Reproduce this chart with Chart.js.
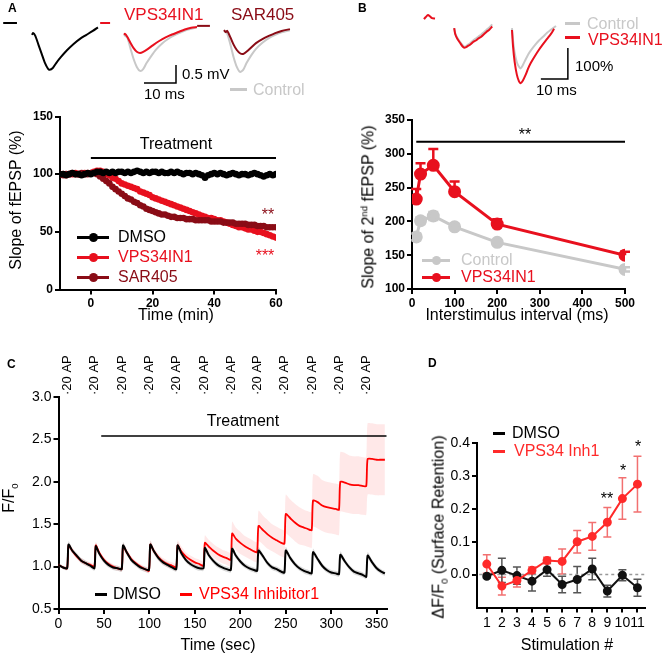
<!DOCTYPE html>
<html>
<head>
<meta charset="utf-8">
<script src="https://cdn.jsdelivr.net/npm/chart.js@4.4.1/dist/chart.umd.min.js"></script>
<style>
body { margin: 0; background: #fff; width: 667px; height: 657px; position: relative; overflow: hidden;
       font-family: "Liberation Sans", Arial, sans-serif; }
canvas { position: absolute; }
.t { position: absolute; white-space: nowrap; line-height: 1; }
.rot { position: absolute; white-space: nowrap; line-height: 1; transform: translate(-50%, -50%) rotate(-90deg); }
.ln { position: absolute; height: 3px; }
.dot { position: absolute; width: 9px; height: 9px; border-radius: 50%; }
sup, sub { font-size: 60%; }
</style>
</head>
<body>
<canvas id="insetA" width="330" height="100" style="left:0;top:0"></canvas>
<canvas id="insetB" width="337" height="100" style="left:330px;top:0"></canvas>
<canvas id="chartA" width="300" height="220" style="left:0;top:100px"></canvas>
<canvas id="chartB" width="310" height="220" style="left:340px;top:100px"></canvas>
<canvas id="chartC" width="395" height="337" style="left:0;top:320px"></canvas>
<canvas id="chartD" width="267" height="337" style="left:400px;top:320px"></canvas>

<script>
// colours
const RED_A = "#e8101e";
const DARK_RED = "#8a0c16";
const GREY = "#c8c8c8";
const RED_C = "#ff0000";
const RED_D = "#ff2a2a";

// ---- inset traces, panel A (ms / mV) ----
const aSweepStart = [10, 38.75, 70]; // black, VPS34IN1, SAR405 sweeps
const aBlackT = [0, 0.3, 1, 2, 3, 4, 5, 5.5, 6.5, 7.5, 9, 11, 13, 15, 17, 19, 20.6];
const aBlackV = [-0.33, -0.28, -0.35, -0.6, -0.85, -1.1, -1.27, -1.3, -1.25, -1.12, -0.95, -0.75, -0.58, -0.44, -0.33, -0.22, -0.12];
const aVpsT = [0, 0.3, 1, 2, 3, 4, 5, 6, 7.5, 9, 11, 13, 15, 17, 19, 21, 22.8];
const aVpsV = [-0.33, -0.3, -0.38, -0.55, -0.7, -0.8, -0.83, -0.8, -0.72, -0.62, -0.5, -0.4, -0.32, -0.25, -0.18, -0.13, -0.11];
const aVpsCtrlT = [0, 1, 2, 3, 4, 5, 6, 7, 8.5, 10, 12, 14, 16, 18, 20, 22.8];
const aVpsCtrlV = [-0.33, -0.4, -0.7, -1.0, -1.22, -1.33, -1.28, -1.12, -0.92, -0.74, -0.56, -0.43, -0.33, -0.25, -0.18, -0.12];
const aSarT = [0, 0.5, 1, 2, 3, 4, 5, 6, 7, 8.5, 10, 12, 14, 16, 18, 20.6];
const aSarV = [-0.2, -0.25, -0.22, -0.4, -0.6, -0.75, -0.84, -0.86, -0.8, -0.68, -0.56, -0.45, -0.36, -0.28, -0.22, -0.17];
const aSarCtrlT = [0, 1, 2, 3, 4, 5, 6, 7, 8.5, 10, 12, 14, 16, 18, 20.6];
const aSarCtrlV = [-0.2, -0.3, -0.6, -0.95, -1.22, -1.36, -1.3, -1.12, -0.9, -0.72, -0.55, -0.42, -0.33, -0.26, -0.2];
const aStimStart = [1, 31.3, 61.6];
const aStimEnd = [5.3, 34.4, 65.6];
const aStimLevel = [0, 0, -0.08];
const aScaleX = [45, 55, 55];      // 10 ms
const aScaleY = [-1.667, -1.667, -1.167]; // 0.5 mV

// ---- inset traces, panel B (ms / %) ----
const bSweepStart = [34.8, 46.0, 67.4];
const bSquigT = [0, 0.7, 1.5, 2.2, 3, 4.1];
const bSquigV = [19, 26, 32, 28, 22, 21];
const bTr1T = [0, 0.4, 1.2, 2.2, 3.2, 4, 5, 6, 7, 8, 9, 10, 11, 12, 13, 14.1];
const bTr1V = [-10, -30, -45, -58, -70, -73, -68, -63, -55, -50, -43, -38, -30, -22, -15, -5];
const bTr1CtrlV = [-10, -28, -42, -55, -66, -70, -64, -58, -50, -44, -37, -31, -23, -15, -8, 2];
const bTr2T = [0, 0.4, 1, 1.8, 2.6, 3.2, 4, 5, 6, 7, 8.5, 10, 11.5, 13, 14.5, 15.6];
const bTr2V = [-16, -70, -120, -160, -182, -188, -180, -162, -140, -122, -100, -80, -62, -45, -28, -12];
const bTr2CtrlT = [0, 0.4, 1, 1.8, 2.6, 3.2, 4, 5, 6, 7, 8.5, 10, 11.5, 13, 14.5, 16.3];
const bTr2CtrlV = [-10, -50, -90, -120, -135, -140, -130, -112, -95, -82, -65, -50, -38, -25, -15, -3];
const bScaleX = [78.1, 88.1, 88.1];   // 10 ms
const bScaleY = [-174, -174, -74];    // 100 %

// ---- panel A: fEPSP slope vs time ----
const timeA = [-10, -9, -8, -7, -6, -5, -4, -3, -2, -1,
  0, 1, 2, 3, 4, 5, 6, 7, 8, 9, 10, 11, 12, 13, 14, 15, 16, 17, 18, 19,
  20, 21, 22, 23, 24, 25, 26, 27, 28, 29, 30, 31, 32, 33, 34, 35, 36, 37, 38, 39,
  40, 41, 42, 43, 44, 45, 46, 47, 48, 49, 50, 51, 52, 53, 54, 55, 56, 57, 58, 59, 60];
const dmsoA = [100, 100, 99, 100, 101, 100, 100, 99, 100, 101,
  100, 101, 102, 102, 101, 102, 101, 102, 101, 102,
  102, 101, 102, 101, 102, 103, 102, 101, 102, 101,
  102, 102, 101, 102, 101, 101, 102, 101, 102, 101,
  100, 101, 101, 100, 101, 100, 99, 97, 99, 100,
  101, 100, 101, 100, 99, 100, 101, 100, 99, 100,
  100, 99, 100, 101, 100, 99, 98, 99, 100, 99, 100];
const vpsA = [100, 100, 99, 100, 100, 101, 100, 100, 101, 101,
  101, 102, 103, 103, 102, 100, 99, 97, 96, 94,
  92, 91, 90, 89, 88, 87, 85, 84, 83, 82,
  80, 79, 78, 77, 76, 75, 74, 73, 72, 71,
  70, 69, 68, 67, 66, 65, 64, 63, 62, 62,
  61, 60, 60, 59, 58, 57, 56, 55, 54, 54,
  53, 52, 52, 51, 50, 50, 49, 48, 47, 46, 45];
const sarA = [100, 99, 100, 100, 101, 100, 100, 101, 100, 100,
  101, 101, 100, 98, 96, 94, 92, 89, 87, 85,
  83, 81, 79, 78, 76, 75, 73, 72, 70, 69,
  68, 67, 66, 65, 65, 64, 63, 63, 62, 62,
  62, 61, 61, 61, 60, 60, 60, 60, 60, 59,
  59, 59, 59, 58, 58, 58, 58, 57, 57, 57,
  57, 56, 56, 56, 55, 55, 55, 54, 54, 54, 54];
const xTicksA = [0, 20, 40, 60];
const yTicksA = [0, 50, 100, 150];
const treatA = [0, 60];
const treatLevelA = 114;

// ---- panel B: paired-pulse ----
const isiB = [10, 20, 50, 100, 200, 500];
const ctrlB = [177, 201, 208, 192, 169, 129];
const ctrlErrB = [5, 5, 6, 4, 3, 3];
const vpsB = [233, 270, 283, 244, 196, 150];
const vpsErrB = [15, 16, 24, 15, 7, 5];
const xTicksB = [0, 100, 200, 300, 400, 500];
const yTicksB = [100, 150, 200, 250, 300, 350];
const sigB = [10, 502];
const sigLevelB = 318;

// ---- panel C: F/F0 traces ----
const stimTimes = [10, 40, 70, 100, 130, 160, 190, 219, 249, 279, 309, 339];
const timeC = [0, 5, 9.5,
  11, 15, 20, 25, 30, 35, 39.5,
  41, 45, 50, 55, 60, 65, 69.5,
  71, 75, 80, 85, 90, 95, 99.5,
  101, 105, 110, 115, 120, 125, 129.5,
  131, 135, 140, 145, 150, 155, 159.5,
  161, 165, 170, 175, 180, 185, 189.5,
  191, 195, 200, 205, 210, 215, 218.5,
  220, 225, 230, 235, 240, 245, 248.5,
  250, 255, 260, 265, 270, 275, 278.5,
  280, 285, 290, 295, 300, 305, 308.5,
  310, 315, 320, 325, 330, 335, 338.5,
  340, 345, 350, 355, 359];
const dmsoC = [1.02, 0.99, 0.98,
  1.26, 1.19, 1.13, 1.07, 1.04, 1.01, 0.98,
  1.24, 1.15, 1.07, 1.02, 0.99, 0.98, 0.97,
  1.25, 1.17, 1.08, 1.03, 0.99, 0.97, 0.96,
  1.26, 1.18, 1.10, 1.05, 1.02, 0.99, 0.97,
  1.25, 1.16, 1.08, 1.03, 1.00, 0.98, 0.98,
  1.22, 1.14, 1.07, 1.02, 0.99, 0.97, 0.96,
  1.21, 1.13, 1.06, 1.01, 0.98, 0.96, 0.95,
  1.19, 1.12, 1.04, 0.99, 0.97, 0.94, 0.93,
  1.19, 1.10, 1.03, 0.98, 0.95, 0.93, 0.92,
  1.17, 1.09, 1.01, 0.96, 0.93, 0.92, 0.91,
  1.14, 1.06, 0.99, 0.94, 0.92, 0.90, 0.88,
  1.13, 1.05, 0.98, 0.94, 0.92];
const semDmsoC = [0.02, 0.02, 0.02,
  0.04, 0.03, 0.03, 0.03, 0.03, 0.03, 0.03,
  0.04, 0.03, 0.03, 0.03, 0.03, 0.03, 0.03,
  0.04, 0.03, 0.03, 0.03, 0.03, 0.03, 0.03,
  0.04, 0.03, 0.03, 0.03, 0.03, 0.03, 0.03,
  0.04, 0.03, 0.03, 0.03, 0.03, 0.03, 0.03,
  0.04, 0.03, 0.03, 0.03, 0.03, 0.03, 0.03,
  0.04, 0.03, 0.03, 0.03, 0.03, 0.03, 0.03,
  0.04, 0.03, 0.03, 0.03, 0.03, 0.03, 0.03,
  0.04, 0.03, 0.03, 0.03, 0.03, 0.03, 0.03,
  0.04, 0.03, 0.03, 0.03, 0.03, 0.03, 0.03,
  0.04, 0.03, 0.03, 0.03, 0.03, 0.03, 0.03,
  0.04, 0.03, 0.03, 0.03, 0.03];
const vpsC = [1.02, 0.99, 0.98,
  1.25, 1.19, 1.12, 1.07, 1.04, 1.02, 1.00,
  1.25, 1.16, 1.08, 1.03, 1.00, 0.98, 0.97,
  1.24, 1.17, 1.09, 1.04, 1.00, 0.97, 0.95,
  1.26, 1.18, 1.11, 1.06, 1.03, 1.01, 0.99,
  1.25, 1.18, 1.12, 1.08, 1.05, 1.03, 1.01,
  1.28, 1.24, 1.19, 1.15, 1.12, 1.10, 1.08,
  1.39, 1.33, 1.28, 1.24, 1.21, 1.18, 1.17,
  1.48, 1.43, 1.38, 1.34, 1.31, 1.28, 1.27,
  1.62, 1.57, 1.52, 1.48, 1.46, 1.44, 1.43,
  1.78, 1.76, 1.72, 1.70, 1.69, 1.68, 1.67,
  2.00, 1.99, 1.97, 1.96, 1.96, 1.95, 1.95,
  2.27, 2.27, 2.26, 2.26, 2.26];
const semVpsC = [0.02, 0.02, 0.02,
  0.03, 0.03, 0.03, 0.03, 0.03, 0.03, 0.03,
  0.04, 0.03, 0.03, 0.03, 0.03, 0.03, 0.03,
  0.04, 0.04, 0.03, 0.03, 0.03, 0.03, 0.03,
  0.05, 0.04, 0.04, 0.04, 0.04, 0.04, 0.04,
  0.06, 0.06, 0.05, 0.05, 0.05, 0.05, 0.05,
  0.09, 0.08, 0.08, 0.08, 0.08, 0.08, 0.08,
  0.14, 0.13, 0.13, 0.12, 0.12, 0.12, 0.12,
  0.18, 0.17, 0.17, 0.16, 0.16, 0.16, 0.16,
  0.23, 0.22, 0.22, 0.22, 0.21, 0.21, 0.21,
  0.31, 0.31, 0.30, 0.30, 0.30, 0.30, 0.30,
  0.35, 0.35, 0.34, 0.34, 0.34, 0.34, 0.34,
  0.42, 0.42, 0.42, 0.42, 0.42];
const xTicksC = [0, 50, 100, 150, 200, 250, 300, 350];
const yTicksC = [0.5, 1.0, 1.5, 2.0, 2.5, 3.0];
const treatC = [47, 361];
const treatLevelC = 2.54;

// ---- panel D: surface retention ----
const stimD = [1, 2, 3, 4, 5, 6, 7, 8, 9, 10, 11];
const dmsoD = [-0.005, 0.013, -0.003, -0.02, 0.015, -0.03, -0.015, 0.017, -0.05, -0.002, -0.04];
const errDmsoD = [0.005, 0.037, 0.026, 0.03, 0.02, 0.025, 0.04, 0.033, 0.018, 0.017, 0.026];
const vpsD = [0.032, -0.035, -0.018, 0.013, 0.043, 0.04, 0.10, 0.116, 0.159, 0.231, 0.275];
const errVpsD = [0.028, 0.027, 0.02, 0.01, 0.01, 0.038, 0.034, 0.042, 0.045, 0.063, 0.085];
const yTicksD = [0, 0.1, 0.2, 0.3, 0.4];
const zeroLineD = [0.5, 11.5];

Chart.defaults.font.family = '"Liberation Sans", Arial, sans-serif';
Chart.defaults.color = "#000";

const xy = (xs, ys, shift) => xs.map((x, i) => ({x: x + (shift || 0), y: ys[i]}));
const flat = (xs, level) => xs.map(x => ({x, y: level}));

// error bars drawn through the chart's own y scale
const errorBars = {
  id: "errorBars",
  beforeDatasetsDraw(chart) {
    const ctx = chart.ctx;
    chart.data.datasets.forEach((ds, i) => {
      if (!ds.err) return;
      const meta = chart.getDatasetMeta(i);
      const ys = chart.scales[meta.yAxisID];
      ctx.save();
      ctx.strokeStyle = ds.errColor;
      ctx.lineWidth = ds.errWidth || 1.5;
      meta.data.forEach((pt, j) => {
        const v = ds.data[j].y, e = ds.err[j], cap = ds.errCap || 4;
        const top = ys.getPixelForValue(v + e);
        const bot = ds.errUpOnly ? pt.y : ys.getPixelForValue(v - e);
        ctx.beginPath();
        ctx.moveTo(pt.x, top); ctx.lineTo(pt.x, bot);
        ctx.moveTo(pt.x - cap, top); ctx.lineTo(pt.x + cap, top);
        if (!ds.errUpOnly) { ctx.moveTo(pt.x - cap, bot); ctx.lineTo(pt.x + cap, bot); }
        ctx.stroke();
      });
      ctx.restore();
    });
  }
};

// "20 AP" markers above panel C, one per stimulation
const apLabels = {
  id: "apLabels",
  afterDraw(chart) {
    const ctx = chart.ctx, xs = chart.scales.x;
    ctx.save();
    ctx.font = '13px "Liberation Sans", Arial, sans-serif';
    ctx.fillStyle = "#000";
    ctx.textAlign = "left";
    ctx.textBaseline = "middle";
    stimTimes.forEach(t => {
      ctx.save();
      ctx.translate(xs.getPixelForValue(t), chart.chartArea.top - 2);
      ctx.rotate(-Math.PI / 2);
      ctx.fillText("\u00b720 AP", 0, 0);
      ctx.restore();
    });
    ctx.restore();
  }
};

function axis(min, max, ticks, size, font, fmt) {
  return {
    type: "linear", min, max,
    afterBuildTicks: s => { s.ticks = ticks.map(v => ({value: v})); },
    afterFit: s => { if (s.isHorizontal()) s.height = size; else s.width = size; },
    border: {display: true, color: "#000", width: 2},
    grid: {display: true, drawOnChartArea: false, drawTicks: true, tickLength: 5, color: "#000", lineWidth: 2},
    ticks: {color: "#000", padding: 2, font, autoSkip: false, maxRotation: 0, callback: fmt || (v => v)}
  };
}

function baseOpts(padding, scales) {
  return {
    responsive: false, animation: false, events: [],
    layout: {padding},
    plugins: {legend: {display: false}, tooltip: {enabled: false}},
    scales
  };
}

function trace(data, color, width) {
  return {data, borderColor: color, borderWidth: width || 2, pointRadius: 0, tension: 0.25, fill: false, clip: false};
}

function insetOpts(xmax, ymin, ymax) {
  return baseOpts(0, {
    x: {type: "linear", display: false, min: 0, max: xmax},
    y: {type: "linear", display: false, min: ymin, max: ymax}
  });
}

// inset A
new Chart(document.getElementById("insetA"), {
  type: "line",
  data: {datasets: [
    trace(xy(aBlackT, aBlackV, aSweepStart[0]), "#000"),
    trace(xy(aVpsT, aVpsV, aSweepStart[1]), RED_A),
    trace(xy(aVpsCtrlT, aVpsCtrlV, aSweepStart[1]), GREY),
    trace(xy(aSarT, aSarV, aSweepStart[2]), DARK_RED),
    trace(xy(aSarCtrlT, aSarCtrlV, aSweepStart[2]), GREY),
    trace(flat([aStimStart[0], aStimEnd[0]], aStimLevel[0]), "#000"),
    trace(flat([aStimStart[1], aStimEnd[1]], aStimLevel[1]), RED_A),
    trace(flat([aStimStart[2], aStimEnd[2]], aStimLevel[2]), DARK_RED),
    Object.assign(trace(xy(aScaleX, aScaleY), "#000", 1.5), {tension: 0})
  ]},
  options: insetOpts(330 / 3.2, -77 / 36, 23 / 36)
});

// inset B
new Chart(document.getElementById("insetB"), {
  type: "line",
  data: {datasets: [
    trace(xy(bSquigT, bSquigV, bSweepStart[0]), RED_A),
    trace(xy(bTr1T, bTr1V, bSweepStart[1]), RED_A),
    trace(xy(bTr1T, bTr1CtrlV, bSweepStart[1]), GREY),
    trace(xy(bTr2T, bTr2V, bSweepStart[2]), RED_A),
    trace(xy(bTr2CtrlT, bTr2CtrlV, bSweepStart[2]), GREY),
    Object.assign(trace(xy(bScaleX, bScaleY), "#000", 1.5), {tension: 0})
  ]},
  options: insetOpts(337 / 2.7, -75 / 0.31, 25 / 0.31)
});

// panel A
const boldTick = {size: 12, weight: "bold"};
function dense(data, color, order) {
  return {data, borderColor: color, backgroundColor: color, borderWidth: 3, pointRadius: 3.3,
          pointBorderWidth: 0, tension: 0, order};
}
new Chart(document.getElementById("chartA"), {
  type: "line",
  data: {datasets: [
    dense(xy(timeA, dmsoA), "#000", 1),
    dense(xy(timeA, sarA), DARK_RED, 2),
    dense(xy(timeA, vpsA), RED_A, 3),
    {data: flat(treatA, treatLevelA), borderColor: "#000", borderWidth: 2, pointRadius: 0, order: 0}
  ]},
  options: baseOpts({left: 0, top: 16.5, right: 24, bottom: 0}, {
    x: axis(-10, 60, xTicksA, 30.5, boldTick),
    y: axis(0, 150, yTicksA, 60, boldTick)
  })
});

// panel B
new Chart(document.getElementById("chartB"), {
  type: "line",
  data: {datasets: [
    {data: xy(isiB, vpsB), borderColor: RED_A, backgroundColor: RED_A, borderWidth: 3, pointRadius: 5,
     tension: 0, err: vpsErrB, errColor: RED_A, errWidth: 2.5, errUpOnly: true, errCap: 5, order: 1},
    {data: xy(isiB, ctrlB), borderColor: GREY, backgroundColor: GREY, borderWidth: 3, pointRadius: 5,
     tension: 0, err: ctrlErrB, errColor: GREY, errWidth: 2.5, errCap: 5, order: 2},
    {data: flat(sigB, sigLevelB), borderColor: "#000", borderWidth: 2, pointRadius: 0, order: 0}
  ]},
  options: baseOpts({left: 0, top: 20, right: 25, bottom: 0}, {
    x: axis(0, 500, xTicksB, 31, boldTick),
    y: axis(100, 350, yTicksB, 72, boldTick)
  }),
  plugins: [errorBars]
});

// panel C
const plainTick = {size: 14};
const band = (mean, sem, sign) => mean.map((m, i) => m + sign * sem[i]);
new Chart(document.getElementById("chartC"), {
  type: "line",
  data: {datasets: [
    {data: xy(timeC, dmsoC), borderColor: "#000", borderWidth: 2, pointRadius: 0, tension: 0.2, order: 1},
    {data: xy(timeC, vpsC), borderColor: RED_C, borderWidth: 1.8, pointRadius: 0, tension: 0.2, order: 2},
    {data: xy(timeC, band(dmsoC, semDmsoC, 1)), borderWidth: 0, pointRadius: 0, tension: 0.2,
     fill: "+1", backgroundColor: "rgba(150,150,150,0.35)", order: 3},
    {data: xy(timeC, band(dmsoC, semDmsoC, -1)), borderWidth: 0, pointRadius: 0, tension: 0.2, order: 4},
    {data: xy(timeC, band(vpsC, semVpsC, 1)), borderWidth: 0, pointRadius: 0, tension: 0.2,
     fill: "+1", backgroundColor: "rgba(255,140,140,0.2)", order: 5},
    {data: xy(timeC, band(vpsC, semVpsC, -1)), borderWidth: 0, pointRadius: 0, tension: 0.2, order: 6},
    {data: flat(treatC, treatLevelC), borderColor: "#000", borderWidth: 1.5, pointRadius: 0, order: 0}
  ]},
  options: baseOpts({left: 0, top: 77, right: 8.3, bottom: 0}, {
    x: axis(0, 361, xTicksC, 48, plainTick),
    y: axis(0.5, 3.0, yTicksC, 58.5, plainTick, v => v.toFixed(1))
  }),
  plugins: [apLabels]
});

// panel D
new Chart(document.getElementById("chartD"), {
  type: "line",
  data: {datasets: [
    {data: xy(stimD, vpsD), borderColor: RED_D, backgroundColor: RED_D, borderWidth: 2, pointRadius: 3.5,
     tension: 0, err: errVpsD, errColor: "#f27070", errWidth: 1.5, errCap: 4, order: 1},
    {data: xy(stimD, dmsoD), borderColor: "#111", backgroundColor: "#111", borderWidth: 2, pointRadius: 3.5,
     tension: 0, err: errDmsoD, errColor: "#555", errWidth: 1.5, errCap: 4, order: 2},
    {data: flat(zeroLineD, 0), borderColor: "#999", borderWidth: 1.5, borderDash: [3, 3], pointRadius: 0, order: 3}
  ]},
  options: baseOpts({left: 0, top: 123, right: 22, bottom: 0}, {
    x: axis(0.35, 11.5, stimD, 49.5, plainTick),
    y: axis(-0.1, 0.4, yTicksD, 77, plainTick, v => v.toFixed(1))
  }),
  plugins: [errorBars]
});

// ---- text, legends, titles ----
function txt(html, x, y, size, color, opts) {
  const o = opts || {};
  const d = document.createElement("div");
  d.className = o.rot ? "rot" : "t";
  d.innerHTML = html;
  d.style.left = x + "px";
  d.style.top = y + "px";
  d.style.fontSize = size + "px";
  d.style.color = color || "#000";
  if (o.bold) d.style.fontWeight = "bold";
  if (!o.rot) d.style.transform = o.center ? "translate(-50%,-50%)" : "translateY(-50%)";
  document.body.appendChild(d);
}
function dash(x, y, w, color) {
  const d = document.createElement("div");
  d.className = "ln";
  d.style.left = x + "px"; d.style.top = (y - 1.5) + "px"; d.style.width = w + "px"; d.style.background = color;
  document.body.appendChild(d);
}
function dotKey(x, y, w, color) {
  dash(x, y, w, color);
  const d = document.createElement("div");
  d.className = "dot";
  d.style.left = (x + w / 2 - 4.5) + "px"; d.style.top = (y - 4.5) + "px"; d.style.background = color;
  document.body.appendChild(d);
}

// panel letters
txt("A", 8, 8, 12, "#000", {bold: true});
txt("B", 358, 8, 12, "#000", {bold: true});
txt("C", 7, 364, 12, "#000", {bold: true});
txt("D", 428, 363, 12, "#000", {bold: true});

// A insets
txt("VPS34IN1", 124, 14, 17, RED_A);
txt("SAR405", 231, 14, 17, DARK_RED);
txt("0.5 mV", 182, 73, 15);
txt("10 ms", 144, 93, 15);
dash(230, 89, 17, GREY);
txt("Control", 253, 90, 16, GREY);

// A chart
txt("Treatment", 176, 144, 16, "#000", {center: true});
txt("**", 268, 215, 16, DARK_RED, {center: true});
txt("***", 265, 256, 16, RED_A, {center: true});
dotKey(77, 237, 32, "#000"); txt("DMSO", 118, 237, 16);
dotKey(77, 257, 32, RED_A); txt("VPS34IN1", 118, 257, 16, RED_A);
dotKey(77, 277, 32, DARK_RED); txt("SAR405", 118, 277, 16, DARK_RED);
txt("Slope of fEPSP (%)", 16, 200, 16, "#000", {rot: true});
txt("Time (min)", 176, 315, 16, "#000", {center: true});

// B insets
dash(565, 23, 15, GREY); txt("Control", 587, 24, 16, GREY);
dash(565, 37, 15, RED_A); txt("VPS34IN1", 588, 40, 16, RED_A);
txt("100%", 575, 65, 15);
txt("10 ms", 536, 89, 15);

// B chart
txt("**", 525, 135, 16, "#000", {center: true});
dotKey(422, 260, 28, GREY); txt("Control", 461, 260, 16, GREY);
dotKey(422, 277, 28, RED_A); txt("VPS34IN1", 461, 277, 16, RED_A);
txt("Slope of 2<sup>nd</sup> fEPSP (%)", 368, 207, 16, "#000", {rot: true});
txt("Interstimulus interval (ms)", 517, 315, 16, "#000", {center: true});

// C chart
txt("Treatment", 243, 421, 16, "#000", {center: true});
dash(95, 594, 12, "#000"); txt("DMSO", 113, 594, 16);
dash(180, 594, 12, RED_C); txt("VPS34 Inhibitor1", 199, 594, 16, RED_C);
txt("F/F<sub>0</sub>", 10, 498, 16, "#000", {rot: true});
txt("Time (sec)", 218, 645, 16, "#000", {center: true});

// D chart
dash(493, 433, 12, "#000"); txt("DMSO", 512, 433, 16);
dash(493, 451, 12, RED_D); txt("VPS34 Inh1", 514, 451, 16, RED_D);
txt("**", 607, 499, 16, "#000", {center: true});
txt("*", 623, 471, 16, "#000", {center: true});
txt("*", 638, 447, 16, "#000", {center: true});
txt("\u0394F/F<sub>0</sub> (Surface Retention)", 440, 527, 16, "#000", {rot: true});
txt("Stimulation #", 567, 645, 16, "#000", {center: true});
</script>
</body>
</html>
